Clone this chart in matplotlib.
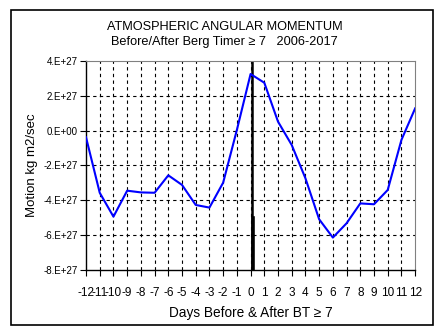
import matplotlib
matplotlib.use("Agg")
import matplotlib.pyplot as plt
from matplotlib.patches import Rectangle

plt.rcParams['font.family'] = ['Liberation Sans', 'DejaVu Sans']

days = list(range(-12, 13))
aam = [-0.39, -3.57, -4.94, -3.45, -3.55, -3.57, -2.57, -3.12, -4.27, -4.42,
       -2.99, 0.03, 3.24, 2.74, 0.51, -0.83, -2.74, -5.09, -6.14, -5.32,
       -4.18, -4.23, -3.41, -0.54, 1.27]  # units of 1E27
yticks = [4, 2, 0, -2, -4, -6, -8]
ytick_labels = ["4.E+27", "2.E+27", "0.E+00", "-2.E+27", "-4.E+27", "-6.E+27", "-8.E+27"]

fig = plt.figure(figsize=(4.4, 3.29), dpi=100)
fig.patches.append(Rectangle((0.024, 0.012), 0.959, 0.958, transform=fig.transFigure,
                             fill=False, edgecolor='black', linewidth=1.2))

ax = fig.add_axes([0.1955, 0.1793, 0.748, 0.636])
ax.set_xlim(-12, 12)
ax.set_ylim(-8, 4)

for y in yticks[1:-1]:
    ax.axhline(y, color='black', linewidth=0.8, linestyle=(0, (3, 3)), zorder=1)
for x in days[1:-1]:
    ax.axvline(x, color='black', linewidth=0.8, linestyle=(0, (3, 3)), zorder=1)

ax.axvline(0.12, color='black', linewidth=1.8, zorder=2)
ax.plot([0.15, 0.15], [-8, -5.0], color='black', linewidth=2.6, zorder=2)

ax.plot(days, aam, color='#0000FF', linewidth=1.5, zorder=3)

ax.set_yticks(yticks)
ax.set_yticklabels(ytick_labels, fontsize=7)
ax.set_xticks(days)
ax.set_xticklabels([str(d) for d in days], fontsize=8.5)
ax.tick_params(axis='both', direction='out', length=4, width=0.8, color='black')
ax.tick_params(axis='x', pad=8)
ax.tick_params(axis='y', pad=2)

for s in ['top', 'right']:
    ax.spines[s].set_color('#808080')
    ax.spines[s].set_linewidth(0.8)
for s in ['left', 'bottom']:
    ax.spines[s].set_color('black')
    ax.spines[s].set_linewidth(1.0)

ax.set_ylabel("Motion kg m2/sec", fontsize=9.5, labelpad=4)
ax.set_xlabel("Days Before & After BT \u2265 7", fontsize=9.8, labelpad=5)

fig.text(0.511, 0.918, "ATMOSPHERIC ANGULAR MOMENTUM", ha='center', va='center', fontsize=9.2)
fig.text(0.511, 0.872, "Before/After Berg Timer \u2265 7   2006-2017", ha='center', va='center', fontsize=9.2)

fig.savefig("out.png", dpi=100)
